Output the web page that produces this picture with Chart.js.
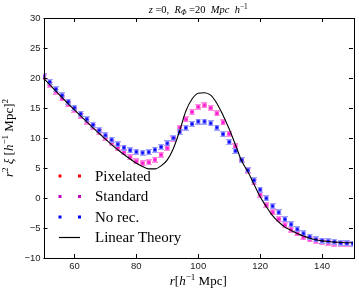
<!DOCTYPE html>
<html><head><meta charset="utf-8">
<script src="https://cdn.jsdelivr.net/npm/chart.js@4.4.0/dist/chart.umd.min.js"></script>
<style>html,body{margin:0;padding:0;background:#fff;}#wrap{width:359px;height:293px;position:relative;}</style>
</head><body><div id="wrap"><canvas id="c" width="359" height="293"></canvas></div>
<script>
const rValues = [50,52,54,56,58,60,62,64,66,68,70,72,74,76,78,80,82,84,86,88,90,92,94,96,98,100,102,104,106,108,110,112,114,116,118,120,122,124,126,128,130,132,134,136,138,140,142,144,146,148,150];
const pixelated = [20.1,18.85,17.75,16.6,15.6,14.7,13.65,12.75,11.8,10.95,10.0,9.2,8.4,7.6,6.8,6.1,5.8,5.95,6.4,7.2,8.3,9.8,11.7,13.1,14.35,15.2,15.45,15.0,14.1,12.6,10.7,8.6,6.4,4.55,2.6,0.55,-1.2,-2.4,-3.5,-4.55,-5.25,-5.9,-6.55,-6.9,-7.15,-7.4,-7.5,-7.6,-7.6,-7.6,-7.6];
const standard = [20.1,18.85,17.75,16.6,15.6,14.7,13.65,12.75,11.8,10.95,10.0,9.2,8.4,7.6,6.8,6.1,5.8,5.95,6.4,7.2,8.3,9.8,11.7,13.1,14.35,15.2,15.45,15.0,14.1,12.6,10.7,8.6,6.4,4.55,2.6,0.55,-1.2,-2.4,-3.5,-4.55,-5.25,-5.9,-6.55,-6.9,-7.15,-7.4,-7.5,-7.6,-7.6,-7.6,-7.6];
const noRec = [20.3,19.35,18.15,17.1,16.05,15.05,14.05,13.15,12.2,11.3,10.45,9.7,8.95,8.4,7.95,7.7,7.55,7.65,8.05,8.5,9.1,10.0,11.0,11.7,12.35,12.75,12.75,12.45,11.75,10.65,9.35,7.85,6.35,4.65,2.95,1.4,-0.05,-1.35,-2.4,-3.55,-4.4,-5.2,-5.9,-6.45,-6.9,-7.1,-7.2,-7.3,-7.5,-7.55,-7.6];
const linearTheory = [19.95,18.9,17.8,16.75,15.7,14.7,13.7,12.7,11.7,10.75,9.8,8.9,8.05,7.25,6.5,5.8,5.25,4.85,4.85,5.35,6.35,8.3,11.2,14.5,16.5,17.45,17.55,17.15,15.8,13.8,11.5,8.9,6.2,4.4,2.3,0.2,-1.45,-2.95,-4.0,-4.85,-5.4,-5.9,-6.35,-6.7,-6.95,-7.15,-7.25,-7.35,-7.4,-7.45,-7.45];
const xTicks = [60,80,100,120,140];
const yTicks = [-10,-5,0,5,10,15,20,25,30];
const seriesNames = ['Pixelated','Standard','No rec.','Linear Theory'];
const legendColors = ['#ff0000','#c000c0','#0000ff','#000000'];

const SERIF = "'Liberation Serif','DejaVu Serif',serif";
const SANS = "'Liberation Sans','DejaVu Sans',sans-serif";

function markerImg(core, halo){
  const c = document.createElement('canvas'); c.width = 6; c.height = 6;
  const g = c.getContext('2d');
  g.fillStyle = halo; g.fillRect(0,0,6,1); g.fillRect(0,5,6,1); g.fillRect(1,1,4,4);
  g.fillStyle = core; g.fillRect(1.5,1.5,3,3);
  return c;
}
const pts = a => rValues.map((r,i)=>({x:r,y:a[i]}));

function drawRich(ctx, segs, x, y, size){
  let total = 0;
  segs.forEach(s=>{
    const fs = s.sup||s.sub ? size*0.7 : size;
    ctx.font = (s.i?'italic ':'') + fs + 'px ' + SERIF;
    s.w = ctx.measureText(s.t).width; total += s.w;
  });
  let cx = x - total/2;
  segs.forEach(s=>{
    const fs = s.sup||s.sub ? size*0.7 : size;
    ctx.font = (s.i?'italic ':'') + fs + 'px ' + SERIF;
    const dy = s.sup ? -size*0.38 : (s.sub ? size*0.22 : 0);
    ctx.fillText(s.t, cx, y+dy); cx += s.w;
  });
}

const decor = {
  id:'decor',
  afterDraw(chart){
    const ctx = chart.ctx, a = chart.chartArea, xs = chart.scales.x, ys = chart.scales.y;
    ctx.save();
    ctx.strokeStyle = '#000'; ctx.lineWidth = 1;
    ctx.beginPath();
    xTicks.forEach(v=>{const px=Math.round(xs.getPixelForValue(v))+0.5;
      ctx.moveTo(px,a.bottom); ctx.lineTo(px,a.bottom-4); ctx.moveTo(px,a.top); ctx.lineTo(px,a.top+4);});
    yTicks.forEach(v=>{const py=Math.round(ys.getPixelForValue(v))+0.5;
      ctx.moveTo(a.left,py); ctx.lineTo(a.left+4,py); ctx.moveTo(a.right,py); ctx.lineTo(a.right-4,py);});
    ctx.stroke();
    ctx.strokeRect(Math.round(a.left)+0.5, Math.round(a.top)+0.5, Math.round(a.right-a.left), Math.round(a.bottom-a.top));
    ctx.fillStyle = '#000'; ctx.textBaseline = 'alphabetic';
    drawRich(ctx,[{t:'z',i:1},{t:' =0,  '},{t:'R',i:1},{t:'Φ',i:1,sub:1},{t:' =20  '},{t:'Mpc  h',i:1},{t:'−1',sup:1}], (a.left+a.right)/2, 13, 10.5);
    drawRich(ctx,[{t:'r',i:1},{t:'['},{t:'h',i:1},{t:'−1',sup:1},{t:' Mpc]'}], (a.left+a.right)/2, 285, 13);
    ctx.save(); ctx.translate(13, (a.top+a.bottom)/2); ctx.rotate(-Math.PI/2);
    drawRich(ctx,[{t:'r',i:1},{t:'2',sup:1},{t:' '},{t:'ξ',i:1},{t:' ['},{t:'h',i:1},{t:'−1',sup:1},{t:' Mpc]'},{t:'2',sup:1}], 0, 0, 13);
    ctx.restore();
    const rows = [176,196.5,217,237.5];
    ctx.font = '15px ' + SERIF; ctx.textBaseline = 'middle'; ctx.textAlign = 'left';
    rows.forEach((y,k)=>{
      if(k<3){ ctx.fillStyle = legendColors[k]; [60,79.5].forEach(x=>ctx.fillRect(x-1.5,y-1.5,3,3)); }
      else { ctx.strokeStyle='#000'; ctx.lineWidth=1.2; ctx.beginPath(); ctx.moveTo(59,y); ctx.lineTo(80,y); ctx.stroke(); }
      ctx.fillStyle = '#000'; ctx.fillText(seriesNames[k], 95, y+1);
    });
    ctx.restore();
  }
};

new Chart(document.getElementById('c'), {
  type:'line',
  data:{datasets:[
    {label:seriesNames[0], data:pts(pixelated), showLine:false, pointStyle:markerImg('#ff0000','#ffaaaa'), pointRadius:3, order:4},
    {label:seriesNames[1], data:pts(standard), showLine:false, pointStyle:markerImg('rgba(255,0,220,0.85)','rgba(255,140,235,0.9)'), pointRadius:3, order:3},
    {label:seriesNames[2], data:pts(noRec), showLine:false, pointStyle:markerImg('#0000ff','#a0a0ff'), pointRadius:3, order:2},
    {label:seriesNames[3], data:pts(linearTheory), borderColor:'#000', borderWidth:1.1, pointRadius:0, cubicInterpolationMode:'monotone', fill:false, order:1}
  ]},
  options:{
    responsive:false, animation:false, devicePixelRatio:1,
    layout:{padding:{top:18,right:6,left:0,bottom:0}},
    plugins:{legend:{display:false}, tooltip:{enabled:false}, title:{display:false}},
    scales:{
      x:{type:'linear', min:50, max:150,
        afterBuildTicks:s=>{s.ticks = xTicks.map(v=>({value:v}));},
        afterFit:s=>{s.height=35;},
        grid:{display:false, drawTicks:false, tickLength:0}, border:{display:false},
        ticks:{font:{family:SANS,size:9.5}, color:'#222', padding:3, maxRotation:0}},
      y:{type:'linear', min:-10, max:30,
        afterBuildTicks:s=>{s.ticks = yTicks.map(v=>({value:v}));},
        afterFit:s=>{s.width=43.5;},
        grid:{display:false, drawTicks:false, tickLength:0}, border:{display:false},
        ticks:{font:{family:SANS,size:9.5}, color:'#222', padding:3, callback:v=>v<0?'−'+Math.abs(v):String(v)}}
    }
  },
  plugins:[decor]
});
</script></body></html>
